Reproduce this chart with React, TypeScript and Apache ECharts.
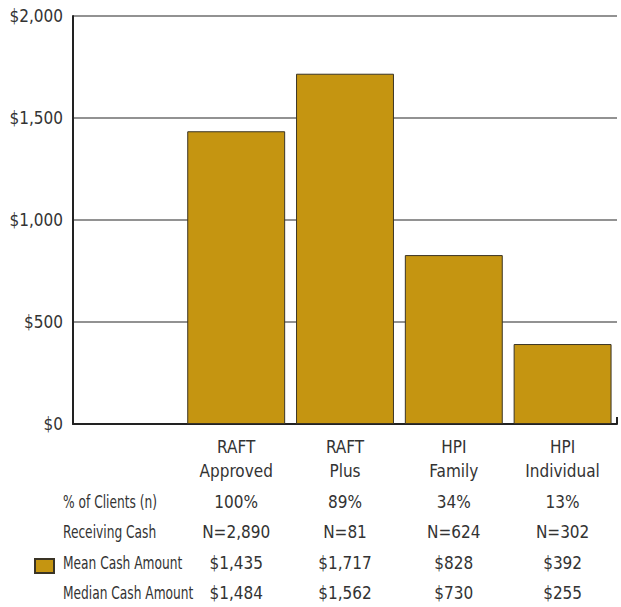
import React, { useEffect, useRef } from 'react';
import * as echarts from 'echarts';

const programs = ['RAFT\nApproved', 'RAFT\nPlus', 'HPI\nFamily', 'HPI\nIndividual'];
const meanCash = [1435, 1717, 828, 392];
const pctClients = ['100%', '89%', '34%', '13%'];
const receivingN = ['N=2,890', 'N=81', 'N=624', 'N=302'];
const meanLabels = ['$1,435', '$1,717', '$828', '$392'];
const medianLabels = ['$1,484', '$1,562', '$730', '$255'];
const rowLabels = ['% of Clients (n)', 'Receiving Cash', 'Mean Cash Amount', 'Median Cash Amount'];
const yMin = 0;
const yMax = 2000;
const yStep = 500;

const FONT = "'DejaVu Sans Condensed', 'Liberation Sans Narrow', sans-serif";
const TEXT = '#333333';
const BAR = '#C59511';

export default function App() {
  const ref = useRef<HTMLDivElement>(null);

  useEffect(() => {
    document.body.style.margin = '0';
    if (!ref.current) return;
    const chart = echarts.init(ref.current, null, { renderer: 'svg' });

    const categories = ['', ...programs];
    const tableRows = [pctClients, receivingN, meanLabels, medianLabels];
    const rowCenters = [502, 532, 563, 593];
    const axisY = 424;

    const tableAxes = tableRows.map((row, k) => ({
      type: 'category',
      gridIndex: 0,
      position: 'bottom',
      offset: rowCenters[k] - axisY - 10,
      data: categories,
      axisLine: { show: false },
      axisTick: { show: false },
      splitLine: { show: false },
      axisLabel: {
        interval: 0,
        margin: 0,
        fontFamily: FONT,
        fontSize: 17,
        lineHeight: 20,
        color: TEXT,
        formatter: (_v: string, i: number) => (i === 0 ? '' : row[i - 1]),
      },
    }));

    const labelGraphics = rowLabels.map((t, k) => ({
      type: 'text',
      x: 63,
      y: rowCenters[k],
      scaleX: 0.8,
      style: {
        text: t,
        font: `17px ${FONT}`,
        fill: TEXT,
        verticalAlign: 'middle',
        align: 'left',
      },
    }));

    chart.setOption({
      animation: false,
      grid: {
        left: 73,
        right: 4,
        top: 16,
        bottom: 607 - axisY,
        containLabel: false,
        outerBoundsMode: 'none',
      },
      legend: {
        show: true,
        left: 34,
        top: 558,
        padding: 0,
        icon: 'rect',
        itemWidth: 19,
        itemHeight: 14,
        formatter: () => '',
        textStyle: { fontSize: 1, lineHeight: 14 },
        data: ['Mean Cash Amount'],
      },
      xAxis: [
        {
          type: 'category',
          gridIndex: 0,
          data: categories,
          axisLine: { show: true, lineStyle: { color: '#222222', width: 2 } },
          axisTick: { show: false },
          axisLabel: {
            interval: 0,
            margin: 11,
            fontFamily: FONT,
            fontSize: 17,
            lineHeight: 24,
            color: TEXT,
          },
        },
        ...tableAxes,
      ],
      yAxis: {
        type: 'value',
        min: yMin,
        max: yMax,
        interval: yStep,
        axisLine: { show: true, lineStyle: { color: '#222222', width: 2 } },
        axisTick: { show: false },
        splitLine: { show: true, lineStyle: { color: '#6e6e6e', width: 1.5 } },
        axisLabel: {
          margin: 10,
          fontFamily: FONT,
          fontSize: 17,
          color: TEXT,
          formatter: (v: number) => '$' + v.toLocaleString('en-US'),
        },
      },
      series: [
        {
          name: 'Mean Cash Amount',
          type: 'bar',
          xAxisIndex: 0,
          data: [null, ...meanCash],
          barCategoryGap: '10%',
          itemStyle: { color: BAR, borderColor: '#3a3425', borderWidth: 1 },
        },
      ],
      graphic: [
        ...labelGraphics,
        {
          type: 'line',
          shape: { x1: 617, y1: 417, x2: 617, y2: axisY },
          style: { stroke: '#222222', lineWidth: 2 },
        },
      ],
    });

    return () => chart.dispose();
  }, []);

  return <div ref={ref} style={{ width: 621, height: 607 }} />;
}
